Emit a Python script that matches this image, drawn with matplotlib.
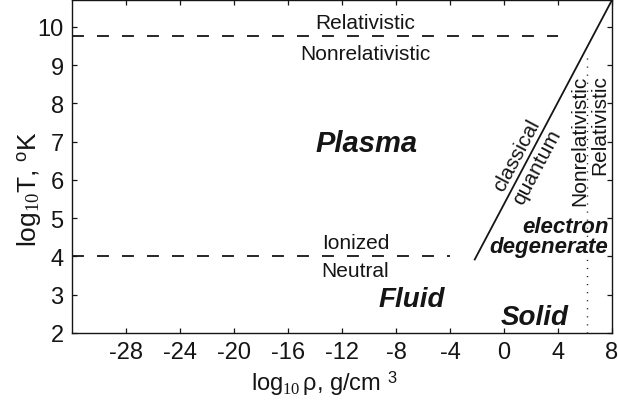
import matplotlib
matplotlib.use("Agg")
import matplotlib.pyplot as plt

plt.rcParams['font.family'] = ['Liberation Sans', 'DejaVu Sans']
plt.rcParams['mathtext.fontset'] = 'custom'
plt.rcParams['mathtext.rm'] = 'Liberation Serif'
plt.rcParams['mathtext.it'] = 'Liberation Serif:italic'
plt.rcParams['mathtext.bf'] = 'Liberation Serif:bold'
plt.rcParams['mathtext.sf'] = 'Liberation Sans'
plt.rcParams['axes.unicode_minus'] = False

# ---- data ----
x_ticks = [-28, -24, -20, -16, -12, -8, -4, 0, 4, 8]
y_ticks = [2, 3, 4, 5, 6, 7, 8, 9, 10]
xlim = [-32, 8]
ylim = [2, 10.7]

rel_line_x = [-32, 4]
rel_line_y = [9.75, 9.75]
ion_line_x = [-32, -4]
ion_line_y = [4, 4]
quant_line_x = [-2.2, 8]
quant_line_y = [3.9, 10.7]
degen_line_x = [6.15, 6.15]
degen_line_y = [2, 9.2]

ink = '#151515'

fig = plt.figure(figsize=(6.18, 4.06), dpi=100)
ax = fig.add_axes([72/618, 72/406, 540/618, 333/406])

lw_d = 1.3
ax.plot(rel_line_x, rel_line_y, color=ink, lw=lw_d, dashes=(8.6/lw_d, 9.4/lw_d))
ax.plot(ion_line_x, ion_line_y, color=ink, lw=lw_d, dashes=(8.6/lw_d, 9.4/lw_d))
ax.plot(quant_line_x, quant_line_y, color=ink, lw=1.3, solid_capstyle='butt')
ax.plot(degen_line_x, degen_line_y, color=ink, lw=1.0, dashes=(0.8, 5.0))

ax.set_xlim(xlim)
ax.set_ylim(ylim)
ax.set_xticks(x_ticks)
ax.set_yticks(y_ticks)
ax.set_xticklabels([str(v) for v in x_ticks])
ax.set_yticklabels([str(v) for v in y_ticks])
ax.tick_params(direction='in', length=3.5, width=0.9, top=True, right=True,
               labelsize=17, colors=ink, pad=6)
for s in ax.spines.values():
    s.set_linewidth(1.0)
    s.set_color(ink)

ax.set_xlabel('log$_{10}\\,$ρ, g/cm $^{\\mathsf{3}}$', fontsize=17, color=ink)
ax.xaxis.set_label_coords(0.468, -0.148)
ax.xaxis.label.set_va('center')
ax.set_ylabel('log$_{10}$T, $^{\\mathsf{o}}$K', fontsize=19, color=ink)
ax.yaxis.set_label_coords(-0.08, 0.435)
ax.yaxis.label.set_va('center')

# region labels
ax.text(-10.3, 10.1, 'Relativistic', fontsize=15, ha='center', va='center', color=ink)
ax.text(-10.3, 9.3, 'Nonrelativistic', fontsize=15, ha='center', va='center', color=ink)
ax.text(-11.0, 4.37, 'Ionized', fontsize=15, ha='center', va='center', color=ink)
ax.text(-11.0, 3.62, 'Neutral', fontsize=15, ha='center', va='center', color=ink)
ax.text(-10.2, 6.96, 'Plasma', fontsize=21, ha='center', va='center',
        fontweight='bold', fontstyle='italic', color=ink)
ax.text(-6.8, 2.9, 'Fluid', fontsize=20, ha='center', va='center',
        fontweight='bold', fontstyle='italic', color=ink)
ax.text(2.3, 2.41, 'Solid', fontsize=20, ha='center', va='center',
        fontweight='bold', fontstyle='italic', color=ink)
ax.text(7.75, 4.79, 'electron', fontsize=16, ha='right', va='center',
        fontweight='bold', fontstyle='italic', color=ink)
ax.text(7.75, 4.27, 'degenerate', fontsize=16, ha='right', va='center',
        fontweight='bold', fontstyle='italic', color=ink)
ax.text(0.96, 6.65, 'classical', fontsize=15, ha='center', va='center',
        rotation=62, rotation_mode='anchor', color=ink)
ax.text(2.44, 6.36, 'quantum', fontsize=15, ha='center', va='center',
        rotation=62, rotation_mode='anchor', color=ink)
ax.text(5.6, 8.76, 'Nonrelativistic', fontsize=15, ha='center', va='top',
        rotation=90, color=ink)
ax.text(7.1, 8.76, 'Relativistic', fontsize=15, ha='center', va='top',
        rotation=90, color=ink)

fig.savefig('out.png', dpi=100)
